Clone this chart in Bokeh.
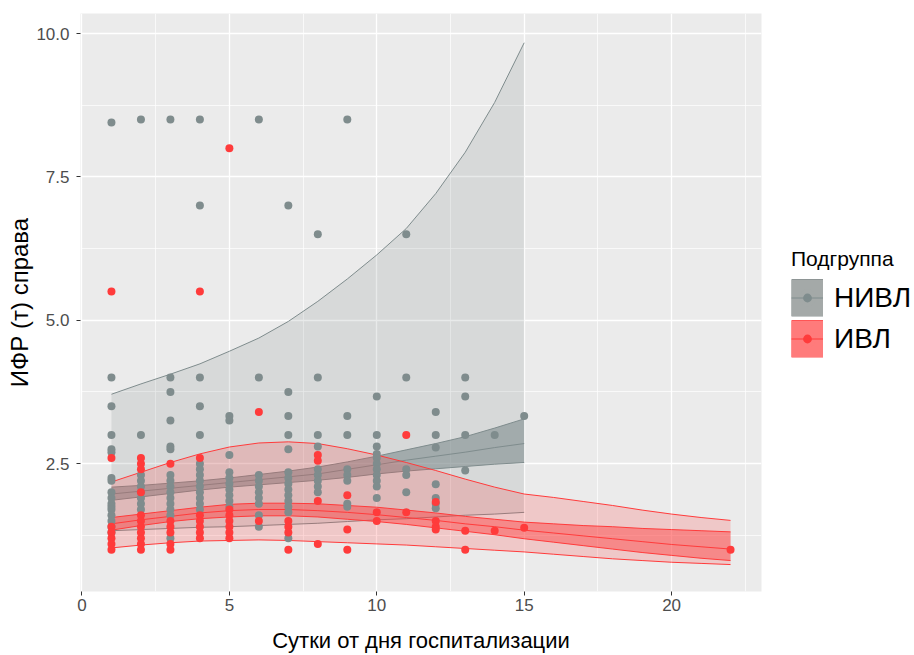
from bokeh.plotting import figure
from bokeh.models import Range1d, FixedTicker, Legend, LegendItem, PrintfTickFormatter
from bokeh.embed import file_html
from bokeh.resources import INLINE

# ---------------- data ----------------
# НИВЛ (grey) observations
nivl_day = ([1]*17 + [2]*9 + [3]*15 + [4]*14 + [5]*10 + [6]*10 + [7]*14 + [8]*9 +
            [9]*8 + [10]*11 + [11]*5 + [12]*7 + [13]*4 + [14]*1 + [15]*1)
nivl_value = [8.45, 4.0, 3.5, 3.0, 2.75, 2.7, 2.25, 2.2, 2.0, 1.9, 1.8, 1.75, 1.7, 1.6, 1.5, 1.4, 1.3,
              8.5, 3.0, 2.3, 2.2, 2.1, 2.0, 1.9, 1.8, 1.7,
              8.5, 4.0, 3.75, 3.25, 2.8, 2.75, 2.3, 2.2, 2.1, 2.0, 1.9, 1.8, 1.7, 1.6, 1.2,
              8.5, 7.0, 4.0, 3.5, 3.0, 2.5, 2.4, 2.3, 2.2, 2.1, 2.0, 1.9, 1.8, 1.7,
              3.33, 3.25, 2.65, 2.35, 2.25, 2.15, 2.05, 1.95, 1.85, 1.75,
              8.5, 4.0, 2.3, 2.2, 2.1, 2.0, 1.9, 1.8, 1.6, 1.4,
              7.0, 3.75, 3.33, 3.0, 2.75, 2.35, 2.25, 2.15, 2.05, 1.95, 1.85, 1.75, 1.65, 1.2,
              6.5, 4.0, 3.0, 2.8, 2.4, 2.3, 2.2, 2.1, 2.0,
              8.5, 3.33, 3.0, 2.4, 2.3, 2.2, 1.8, 1.75,
              3.67, 3.0, 2.8, 2.67, 2.6, 2.5, 2.4, 2.3, 2.2, 2.1, 1.9,
              6.5, 4.0, 2.4, 2.3, 2.0,
              3.4, 3.0, 2.78, 2.14, 1.9, 1.8, 1.72,
              4.0, 3.67, 3.0, 2.38,
              3.0,
              3.33]

# ИВЛ (red) observations
ivl_day = ([1]*7 + [2]*11 + [3]*6 + [4]*7 + [5]*7 + [6]*2 + [7]*4 + [8]*4 + [9]*3 +
           [10]*2 + [11]*2 + [12]*4 + [13]*2 + [14]*1 + [15]*1 + [22]*1)
ivl_value = [5.5, 2.6, 1.4, 1.3, 1.2, 1.1, 1.0,
             2.6, 2.5, 2.4, 2.0, 1.6, 1.5, 1.4, 1.3, 1.2, 1.1, 1.0,
             2.5, 1.5, 1.4, 1.3, 1.1, 1.0,
             5.5, 2.6, 1.6, 1.5, 1.4, 1.3, 1.2,
             8.0, 1.7, 1.6, 1.5, 1.4, 1.3, 1.2,
             3.4, 1.5,
             1.5, 1.4, 1.3, 1.0,
             2.65, 2.55, 1.85, 1.1,
             1.95, 1.35, 1.0,
             1.65, 1.5,
             3.0, 1.65,
             1.83, 1.5, 1.4, 1.35,
             1.33, 1.0,
             1.33,
             1.38,
             1.0]

# НИВЛ model curves
nivl_days = list(range(1, 16))
nivl_fit = [1.97, 2.02, 2.07, 2.12, 2.17, 2.22, 2.27, 2.32, 2.40, 2.48, 2.56, 2.63, 2.70, 2.78, 2.85]
nivl_ci_hi = [2.09, 2.12, 2.16, 2.20, 2.25, 2.31, 2.37, 2.44, 2.53, 2.63, 2.74, 2.85, 2.97, 3.12, 3.28]
nivl_ci_lo = [1.86, 1.92, 1.98, 2.04, 2.09, 2.13, 2.17, 2.21, 2.26, 2.32, 2.37, 2.41, 2.45, 2.49, 2.52]
nivl_pi_hi = [3.71, 3.89, 4.06, 4.24, 4.46, 4.69, 4.98, 5.33, 5.72, 6.14, 6.60, 7.21, 7.93, 8.80, 9.84]
nivl_pi_lo = [1.33, 1.35, 1.37, 1.39, 1.40, 1.42, 1.44, 1.46, 1.49, 1.52, 1.54, 1.57, 1.60, 1.62, 1.65]

# ИВЛ model curves
ivl_days = list(range(1, 23))
ivl_fit = [1.45, 1.52, 1.58, 1.64, 1.68, 1.70, 1.70, 1.68, 1.65, 1.61, 1.56, 1.51, 1.45, 1.40,
           1.34, 1.29, 1.24, 1.19, 1.14, 1.09, 1.05, 1.01]
ivl_ci_hi = [1.56, 1.62, 1.68, 1.74, 1.79, 1.81, 1.81, 1.80, 1.77, 1.74, 1.69, 1.64, 1.58, 1.53,
             1.48, 1.45, 1.42, 1.40, 1.37, 1.35, 1.33, 1.31]
ivl_ci_lo = [1.34, 1.42, 1.49, 1.54, 1.57, 1.59, 1.59, 1.57, 1.53, 1.49, 1.44, 1.38, 1.32, 1.26,
             1.19, 1.13, 1.07, 1.01, 0.95, 0.90, 0.85, 0.81]
ivl_pi_hi = [2.18, 2.35, 2.52, 2.67, 2.79, 2.86, 2.88, 2.85, 2.76, 2.65, 2.52, 2.38, 2.23, 2.09,
             1.97, 1.91, 1.84, 1.77, 1.69, 1.62, 1.56, 1.51]
ivl_pi_lo = [1.03, 1.08, 1.12, 1.15, 1.16, 1.17, 1.16, 1.14, 1.12, 1.10, 1.08, 1.05, 1.02, 0.99,
             0.96, 0.92, 0.88, 0.84, 0.81, 0.78, 0.76, 0.74]

x_ticks = [0, 5, 10, 15, 20]
y_ticks = [2.5, 5.0, 7.5, 10.0]
group_labels = ["НИВЛ", "ИВЛ"]

# ---------------- styles ----------------
GREY = "#7F8C8D"
RED = "#FF3B3B"
FONT = "Liberation Sans"
NAN = float("nan")

p = figure(width=914, height=655, frame_width=681, frame_height=578,
           output_backend="svg", toolbar_location=None,
           x_range=Range1d(-0.05, 23.05), y_range=Range1d(0.27, 10.35),
           min_border_left=80, min_border_right=0, min_border_top=13, min_border_bottom=64)

p.background_fill_color = "#EBEBEB"
p.border_fill_color = "white"
p.outline_line_color = None

p.xaxis.ticker = FixedTicker(ticks=x_ticks, minor_ticks=[2.5, 7.5, 12.5, 17.5, 22.5])
p.yaxis.ticker = FixedTicker(ticks=y_ticks, minor_ticks=[1.25, 3.75, 6.25, 8.75])
p.yaxis.formatter = PrintfTickFormatter(format="%.1f")

for g in (p.xgrid, p.ygrid):
    g.grid_line_color = "white"
    g.grid_line_width = 1.3
    g.minor_grid_line_color = "white"
    g.minor_grid_line_width = 0.7

for ax in (p.xaxis, p.yaxis):
    ax.axis_line_color = None
    ax.major_tick_line_color = "#333333"
    ax.major_tick_in = 0
    ax.major_tick_out = 4
    ax.minor_tick_line_color = None
    ax.major_label_text_font = FONT
    ax.major_label_text_font_size = "17px"
    ax.major_label_text_color = "#4D4D4D"
    ax.axis_label_text_font = FONT
    ax.axis_label_text_font_style = "normal"
    ax.axis_label_text_color = "black"

p.xaxis.axis_label = "Сутки от дня госпитализации"
p.xaxis.axis_label_text_font_size = "22px"
p.xaxis.major_label_standoff = 3
p.xaxis.axis_label_standoff = 14
p.yaxis.axis_label = "ИФР (т) справа"
p.yaxis.axis_label_text_font_size = "24px"
p.yaxis.major_label_standoff = 7
p.yaxis.axis_label_standoff = 0

# bands (grey)
p.varea(x=nivl_days, y1=nivl_pi_lo, y2=nivl_pi_hi, fill_color=GREY, fill_alpha=0.18)
p.varea(x=nivl_days, y1=nivl_ci_lo, y2=nivl_ci_hi, fill_color=GREY, fill_alpha=0.6)
for ys in (nivl_pi_lo, nivl_pi_hi, nivl_ci_lo, nivl_ci_hi, nivl_fit):
    p.line(x=nivl_days, y=ys, line_color=GREY, line_width=1)

# bands (red)
p.varea(x=ivl_days, y1=ivl_pi_lo, y2=ivl_pi_hi, fill_color=RED, fill_alpha=0.2)
p.varea(x=ivl_days, y1=ivl_ci_lo, y2=ivl_ci_hi, fill_color=RED, fill_alpha=0.45)
for ys in (ivl_pi_lo, ivl_pi_hi, ivl_ci_lo, ivl_ci_hi, ivl_fit):
    p.line(x=ivl_days, y=ys, line_color=RED, line_width=1)

# points
p.scatter(x=nivl_day, y=nivl_value, size=8, fill_color=GREY, line_color=None)
p.scatter(x=ivl_day, y=ivl_value, size=8, fill_color=RED, line_color=None)

# legend keys (renderers with a single NaN point, used only by the legend)
def key(border, fill, pt):
    r1 = p.line(x=[NAN], y=[NAN], line_color=border, line_width=38)
    r2 = p.line(x=[NAN], y=[NAN], line_color=fill, line_width=36)
    r3 = p.scatter(x=[NAN], y=[NAN], size=8, fill_color=pt, line_color=fill, line_width=4)
    r4 = p.line(x=[NAN], y=[NAN], line_color=pt, line_width=1)
    return [r1, r2, r3, r4]

items = [LegendItem(label=group_labels[0], renderers=key("#8E9595", "#A4A9A8", GREY)),
         LegendItem(label=group_labels[1], renderers=key("#FF5555", "#FF7B7B", RED))]
legend = Legend(items=items, location="center_left", title="Подгруппа",
                title_text_font=FONT, title_text_font_size="21px", title_text_font_style="normal",
                title_text_color="black", title_standoff=8,
                label_text_font=FONT, label_text_font_size="28px", label_text_color="black",
                glyph_width=32, glyph_height=38, label_standoff=11, spacing=3,
                padding=10, margin=30, background_fill_alpha=0, border_line_color=None)
p.add_layout(legend, "right")

open("out.html", "w").write(file_html(p, INLINE))
